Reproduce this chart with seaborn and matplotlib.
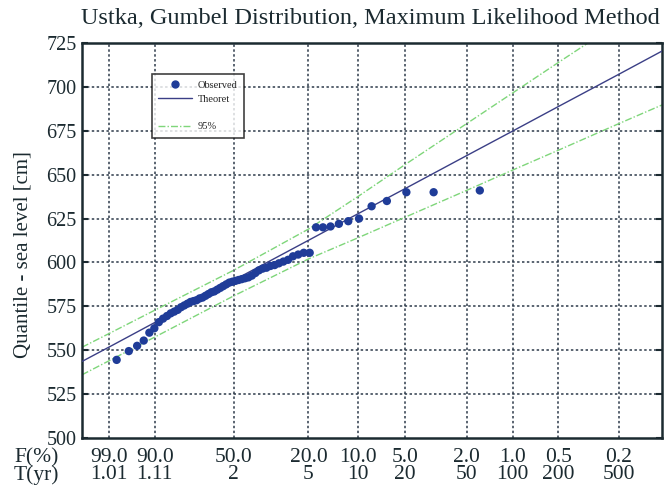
import numpy as np
import pandas as pd
import matplotlib
matplotlib.use("Agg")
import matplotlib.pyplot as plt
from matplotlib.lines import Line2D
import seaborn as sns

# Annual maximum sea levels at Ustka [cm], sorted ascending
sea_level = [544.5, 549.5, 552.5, 555.5, 560.0, 562.5, 566.0, 568.0, 569.5, 571.0,
             572.0, 573.0, 574.5, 575.5, 576.5, 577.5, 578.0, 578.5, 579.5, 580.0,
             581.0, 582.0, 583.0, 583.5, 584.5, 585.5, 586.5, 587.5, 588.5, 589.0,
             589.5, 590.0, 590.5, 591.0, 591.5, 592.5, 594.0, 595.5, 596.5, 597.0,
             598.0, 598.5, 599.5, 600.5, 601.5, 603.5, 604.5, 605.5, 605.5, 620.0,
             620.0, 620.5, 622.0, 623.5, 625.0, 632.0, 635.0, 640.0, 640.0, 641.0]

# Fitted Gumbel quantiles and 95% confidence limits, given on the reduced variate
curve_y = [-1.94, -1.529, -0.834, 0.367, 1.5, 2.25, 2.97, 3.90, 4.60, 5.30, 6.21, 6.87]
theoretical = [543.6, 551.8, 565.8, 589.9, 612.6, 627.7, 642.1, 660.8, 674.8, 688.9, 707.1, 720.4]
upper_95 = [551.7, 559.5, 572.8, 595.6, 619.0, 637.5, 655.8, 679.0, 696.5, 714.0, 736.5, 753.0]
lower_95 = [536.0, 544.0, 557.5, 581.0, 602.0, 614.0, 625.8, 641.0, 652.6, 664.0, 679.0, 689.7]

# Probability axis labels: exceedance probability and return period
exceed_pct = [99.0, 90.0, 50.0, 20.0, 10.0, 5.0, 2.0, 1.0, 0.5, 0.2]
f_labels = ["99.0", "90.0", "50.0", "20.0", "10.0", "5.0", "2.0", "1.0", "0.5", "0.2"]
t_labels = ["1.01", "1.11", "2", "5", "10", "20", "50", "100", "200", "500"]
y_ticks = [500, 525, 550, 575, 600, 625, 650, 675, 700, 725]


def reduced_variate(nonexceed):
    p = np.asarray(nonexceed, dtype=float)
    return -np.log(-np.log(p))


n = len(sea_level)
rank = np.arange(1, n + 1)
obs = pd.DataFrame({
    "y": reduced_variate(rank / (n + 1.0)),
    "level": sea_level,
})
curves = pd.DataFrame({
    "y": curve_y,
    "Theoret": theoretical,
    "upper": upper_95,
    "lower": lower_95,
})
tick_pos = reduced_variate(1.0 - np.array(exceed_pct) / 100.0)

sns.set_theme(style="white")
plt.rcParams["font.family"] = ["Liberation Serif", "DejaVu Serif"]
plt.rcParams["axes.edgecolor"] = "#1b2a30"

INK = "#1b2a30"
fig = plt.figure(figsize=(6.68, 4.86), dpi=100)
ax = fig.add_axes([82 / 668, 1 - 438 / 486, 580 / 668, 395 / 486])

grid_kw = dict(color="#2e3b4a", linestyle=(0, (1.6, 1.6)), linewidth=1.1, zorder=0)
for v in y_ticks[1:-1]:
    ax.axhline(v, **grid_kw)
for v in tick_pos:
    ax.axvline(v, **grid_kw)

band_kw = dict(color="#7fd67a", linewidth=1.0, dashes=(5, 1.5, 1, 1.5), zorder=2)
ax.plot(curves["y"], curves["upper"], **band_kw)
ax.plot(curves["y"], curves["lower"], **band_kw)
sns.lineplot(data=curves, x="y", y="Theoret", ax=ax, color="#3b3f86",
             linewidth=1.0, estimator=None, sort=False, zorder=3)
sns.scatterplot(data=obs, x="y", y="level", ax=ax, color="#1f3c98",
                s=36, edgecolor="none", linewidth=0, zorder=4)

ax.set_xlim(-1.94, 6.87)
ax.set_ylim(500, 725)
ax.set_yticks(y_ticks)
ax.set_yticklabels([str(v) for v in y_ticks])
ax.set_xticks(tick_pos)
ax.set_xticklabels([f"{a}\n{b}" for a, b in zip(f_labels, t_labels)],
                   linespacing=0.88)
ax.tick_params(axis="y", direction="in", length=4, width=1.5, left=True,
               right=True, labelsize=14.5, pad=4, colors=INK)
ax.tick_params(axis="x", length=0, labelsize=15.5, pad=7, colors=INK)
for sp in ax.spines.values():
    sp.set_linewidth(1.8)
    sp.set_visible(True)
ax.set_xlabel("")
ax.set_ylabel("")

fig.text(14 / 668, 1 - 448 / 486, "F(%)\nT(yr)", ha="left", va="top",
         fontsize=15.5, linespacing=0.88, color=INK)
fig.text(23 / 668, 1 - 255 / 486,
         "Quantile - sea level [cm]", rotation=90, ha="center", va="center",
         fontsize=15, color=INK)
fig.text(370 / 668, 1 - 18 / 486,
         "Ustka, Gumbel Distribution, Maximum Likelihood Method",
         ha="center", va="center", fontsize=17.5, color=INK)

handles = [
    Line2D([], [], marker="o", linestyle="none", color="#1f3c98", markersize=5),
    Line2D([], [], color="#3b3f86", linewidth=1.0),
    Line2D([], [], linestyle="none"),
    Line2D([], [], color="#7fd67a", linewidth=1.0, dashes=(5, 1.5, 1, 1.5)),
]
leg = ax.legend(handles, ["Observed", "Theoret", "", "95%"],
                loc="upper left", bbox_to_anchor=((152 - 82) / 580, (438 - 74) / 395),
                borderaxespad=0, fontsize=7.5, frameon=True, fancybox=False,
                handlelength=3.2, handletextpad=0.6, borderpad=0.6,
                labelspacing=0.45)
leg.get_frame().set_edgecolor("#111111")
leg.get_frame().set_linewidth(1.2)

fig.savefig("out.png", dpi=100)
